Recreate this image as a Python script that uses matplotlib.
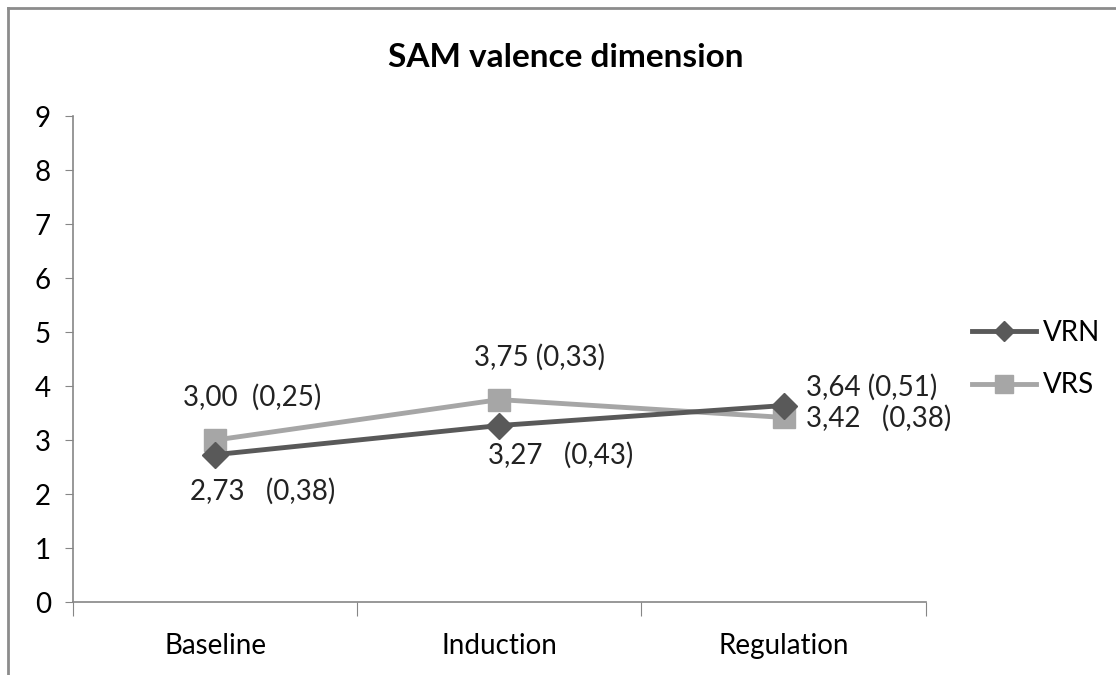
import matplotlib
matplotlib.use("Agg")
import matplotlib.pyplot as plt
from matplotlib.lines import Line2D

plt.rcParams['font.family'] = ['Lato', 'DejaVu Sans']

# data
categories = ['Baseline', 'Induction', 'Regulation']
vrn_mean = [2.73, 3.27, 3.64]
vrn_sd = ['0,38', '0,43', '0,51']
vrs_mean = [3.00, 3.75, 3.42]
vrs_sd = ['0,25', '0,33', '0,38']

VRN_COLOR = '#595959'
VRS_COLOR = '#a6a6a6'
AXIS_COLOR = '#868686'
FS = 20

fig = plt.figure(figsize=(11.16, 6.75), dpi=100)
ax = fig.add_axes([0.0654, 0.108, 0.764, 0.72])

x = list(range(len(categories)))
ax.plot(x, vrn_mean, color=VRN_COLOR, lw=3.5, marker='D', ms=13,
        label='VRN', zorder=3)
ax.plot(x, vrs_mean, color=VRS_COLOR, lw=3.5, marker='s', ms=16,
        label='VRS', zorder=2)

# label offsets in pixels (left edge, vertical centre)
vrn_off = [(-25, -37, '   '), (-11, -30, '   '), (22, 18, ' ')]
vrs_off = [(-32, 43, '  '), (-25, 42, ' '), (22, -1, '   ')]

def fmt(v):
    return f'{v:.2f}'.replace('.', ',')

for i in x:
    dx, dy, sep = vrn_off[i]
    ax.annotate(f'{fmt(vrn_mean[i])}{sep}({vrn_sd[i]})', (i, vrn_mean[i]),
                xytext=(dx, dy), textcoords='offset pixels',
                ha='left', va='center', fontsize=FS, color='#222222')
    dx, dy, sep = vrs_off[i]
    ax.annotate(f'{fmt(vrs_mean[i])}{sep}({vrs_sd[i]})', (i, vrs_mean[i]),
                xytext=(dx, dy), textcoords='offset pixels',
                ha='left', va='center', fontsize=FS, color='#222222')

ax.set_xlim(-0.5, 2.5)
ax.set_ylim(0, 9)
ax.set_yticks(range(0, 10))
ax.tick_params(axis='y', length=6, color=AXIS_COLOR, labelsize=FS, pad=10)

ax.set_xticks([-0.5, 0.5, 1.5, 2.5])
ax.set_xticklabels([])
ax.tick_params(axis='x', which='major', length=10, color=AXIS_COLOR)
ax.set_xticks(x, minor=True)
ax.set_xticklabels(categories, minor=True)
ax.tick_params(axis='x', which='minor', length=0, labelsize=FS, pad=22)

for side in ['top', 'right']:
    ax.spines[side].set_visible(False)
for side in ['left', 'bottom']:
    ax.spines[side].set_color(AXIS_COLOR)
    ax.spines[side].set_linewidth(1.2)

fig.text(0.507, 0.915, 'SAM valence dimension', ha='center', va='center',
         fontsize=24, fontweight='bold')

ax.legend(loc='center left', bbox_to_anchor=(1.025, 0.5), frameon=False,
          fontsize=FS, handlelength=2.3, labelspacing=0.95, handletextpad=0.25,
          markerscale=0.8)

# outer chart border (cropped on right and bottom)
fig.add_artist(Line2D([8 / 1116, 1], [1 - 8 / 675, 1 - 8 / 675],
                      transform=fig.transFigure, color='#8c8c8c', lw=2))
fig.add_artist(Line2D([8 / 1116, 8 / 1116], [0, 1 - 8 / 675],
                      transform=fig.transFigure, color='#8c8c8c', lw=2))

fig.savefig('out.png', dpi=100, facecolor='white')
